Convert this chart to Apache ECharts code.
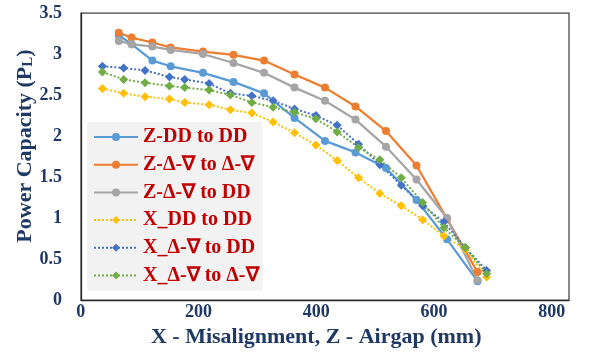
<!DOCTYPE html>
<html><head><meta charset="utf-8">
<script src="https://cdn.jsdelivr.net/npm/echarts@6/dist/echarts.min.js"></script>
</head><body style="margin:0;background:#fff">
<div id="c" style="width:602px;height:362px"></div>
<script>
// Z series (airgap) x positions, mm
const zX = [62, 83, 117, 147, 200, 250, 300, 350, 400, 450, 500, 550, 600, 650];
const zDDtoDD   = [3.23, 3.12, 2.92, 2.85, 2.77, 2.66, 2.52, 2.22, 1.94, 1.80, 1.61, 1.22, 0.74, 0.23];
const zDNtoDN   = [3.26, 3.20, 3.14, 3.08, 3.03, 2.99, 2.92, 2.75, 2.59, 2.36, 2.06, 1.64, 0.99, 0.34];
const zDNtoDD   = [3.16, 3.12, 3.09, 3.05, 3.00, 2.89, 2.77, 2.59, 2.43, 2.20, 1.87, 1.47, 1.00, 0.24];
// X series (misalignment) x positions, mm
const xX = [35, 70, 105, 145, 170, 210, 245, 280, 315, 350, 385, 420, 455, 490, 525, 560, 595, 630, 665];
const xDDtoDD   = [2.58, 2.52, 2.48, 2.45, 2.41, 2.38, 2.32, 2.28, 2.17, 2.04, 1.89, 1.70, 1.49, 1.30, 1.15, 0.98, 0.78, 0.62, 0.28];
const xDNtoDD   = [2.85, 2.83, 2.80, 2.72, 2.69, 2.64, 2.52, 2.49, 2.43, 2.33, 2.25, 2.13, 1.90, 1.65, 1.40, 1.15, 0.95, 0.64, 0.36];
const xDNtoDN   = [2.78, 2.69, 2.65, 2.61, 2.59, 2.56, 2.50, 2.41, 2.35, 2.29, 2.21, 2.05, 1.86, 1.71, 1.49, 1.19, 0.88, 0.64, 0.32];
const seriesNames = ['Z-DD to DD', 'Z-Δ-∇ to Δ-∇', 'Z-Δ-∇ to DD', 'X_DD to DD', 'X_Δ-∇ to DD', 'X_Δ-∇ to Δ-∇'];
const xTicks = [0, 200, 400, 600, 800];
const yTicks = [0, 0.5, 1, 1.5, 2, 2.5, 3, 3.5];

const pair = (xs, ys) => xs.map((x, i) => [x, ys[i]]);
const FONT = "'Liberation Serif', 'Times New Roman', serif";
const NAVY = '#1F3864';

function zSeries(name, xs, ys, color) {
  return { name, type: 'line', xAxisIndex: 0, yAxisIndex: 0, data: pair(xs, ys),
    symbol: 'circle', symbolSize: 8, itemStyle: { color },
    lineStyle: { color, width: 2.25 }, z: 2 };
}
function xSeries(name, xs, ys, color) {
  return { name, type: 'line', xAxisIndex: 0, yAxisIndex: 0, data: pair(xs, ys),
    symbol: 'diamond', symbolSize: 9, itemStyle: { color },
    lineStyle: { color, width: 2, type: [2, 2] }, z: 2 };
}

const chart = echarts.init(document.getElementById('c'), null, { renderer: 'canvas' });
chart.setOption({
  animation: false,
  backgroundColor: '#fff',
  grid: [
    { left: 81, right: 33, top: 13, bottom: 62, show: true, borderColor: '#404040', borderWidth: 1.25 },
    { left: 80.7, right: 50.3, top: 13, bottom: 62 },
    { left: 81, right: 33, top: 13, bottom: 83 }
  ],
  xAxis: [
    { gridIndex: 0, type: 'value', min: 0, max: 800, interval: 200,
      axisLine: { show: true, lineStyle: { color: '#262626', width: 1.25 } },
      axisTick: { show: false }, axisLabel: { show: false }, splitLine: { show: false } },
    { gridIndex: 1, type: 'value', min: xTicks[0], max: xTicks[xTicks.length - 1], interval: 200,
      axisLine: { show: false }, axisTick: { show: false }, splitLine: { show: false },
      axisLabel: { show: true, margin: 3, fontFamily: FONT, fontWeight: 'bold', fontSize: 18, color: NAVY },
      name: 'X - Misalignment, Z - Airgap (mm)', nameLocation: 'middle', nameGap: 17,
      nameTextStyle: { fontFamily: FONT, fontWeight: 'bold', fontSize: 22, color: NAVY } },
    { gridIndex: 2, type: 'value', show: false, min: 0, max: 800 }
  ],
  yAxis: [
    { gridIndex: 0, type: 'value', min: yTicks[0], max: yTicks[yTicks.length - 1], interval: 0.5,
      axisLine: { show: true, lineStyle: { color: '#262626', width: 1.25 } },
      axisTick: { show: false }, splitLine: { show: false },
      axisLabel: { margin: 19, fontFamily: FONT, fontWeight: 'bold', fontSize: 18, color: NAVY } },
    { gridIndex: 1, type: 'value', show: false, min: 0, max: 3.5 },
    { gridIndex: 2, type: 'value', min: 0, max: 3.5,
      axisLine: { show: false }, axisTick: { show: false }, axisLabel: { show: false }, splitLine: { show: false },
      name: 'Power Capacity (P{s|L})', nameLocation: 'middle', nameGap: 45,
      nameTextStyle: { fontFamily: FONT, fontWeight: 'bold', fontSize: 22, color: NAVY,
        rich: { s: { fontFamily: FONT, fontWeight: 'bold', fontSize: 15, color: NAVY, verticalAlign: 'bottom' } } } }
  ],
  legend: {
    orient: 'vertical', left: 87, top: 122,
    backgroundColor: '#F2F2F2', padding: [5, 4, 5, 6],
    itemWidth: 44, itemHeight: 10, itemGap: 7.7,
    data: seriesNames,
    textStyle: { fontFamily: FONT, fontWeight: 'bold', fontSize: 20, color: '#C00000', lineHeight: 20 }
  },
  series: [
    zSeries(seriesNames[0], zX, zDDtoDD, '#5B9BD5'),
    zSeries(seriesNames[1], zX, zDNtoDN, '#ED7D31'),
    zSeries(seriesNames[2], zX, zDNtoDD, '#A5A5A5'),
    xSeries(seriesNames[3], xX, xDDtoDD, '#FFC000'),
    xSeries(seriesNames[4], xX, xDNtoDD, '#4472C4'),
    xSeries(seriesNames[5], xX, xDNtoDN, '#70AD47')
  ]
});
</script>
</body></html>
